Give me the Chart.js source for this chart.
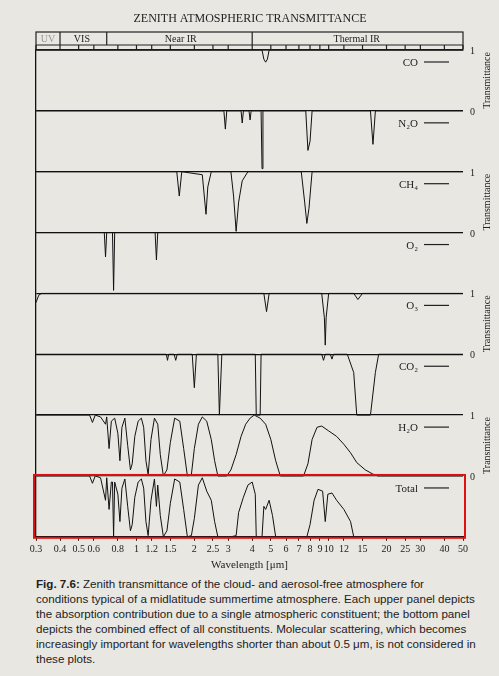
<!DOCTYPE html>
<html>
<head>
<meta charset="utf-8">
<script src="https://cdn.jsdelivr.net/npm/chart.js@4/dist/chart.umd.min.js"></script>
<style>
  body { margin: 0; background: #e9e7e2; width: 499px; height: 676px; overflow: hidden; }
  #wrap { position: relative; width: 499px; height: 572px; }
  #cap { margin: 4px 20px 0 36px; font-family: "Liberation Sans", sans-serif; font-size: 11.6px; line-height: 15px; color: #222; }
</style>
</head>
<body>
<div id="wrap"><canvas id="myChart" width="499" height="572"></canvas></div>
<div id="cap"><b>Fig. 7.6:</b> Zenith transmittance of the cloud- and aerosol-free atmosphere for conditions typical of a midlatitude summertime atmosphere. Each upper panel depicts the absorption contribution due to a single atmospheric constituent; the bottom panel depicts the combined effect of all constituents. Molecular scattering, which becomes increasingly important for wavelengths shorter than about 0.5 μm, is not considered in these plots.</div>
<script>
// panels from top to bottom
const gases = ['CO', 'N₂O', 'CH₄', 'O₂', 'O₃', 'CO₂', 'H₂O', 'Total'];
const tickValues = [0.3, 0.4, 0.5, 0.6, 0.8, 1, 1.2, 1.5, 2, 2.5, 3, 4, 5, 6, 7, 8, 9, 10, 12, 15, 20, 25, 30, 40, 50];

const coWl = [0.3, 4.5, 4.6, 4.7, 4.8, 4.9, 50];
const coT = [1, 1, 0.85, 0.8, 0.85, 1, 1];

const n2oWl = [0.3, 2.85, 2.9, 2.95, 3.5, 3.55, 3.6, 3.85, 3.9, 3.95, 4.45, 4.5, 4.55, 7.6, 7.8, 8.0, 8.2, 16.5, 17, 17.5, 50];
const n2oT = [1, 1, 0.7, 1, 1, 0.8, 1, 1, 0.85, 1, 1, 0.05, 1, 1, 0.35, 0.5, 1, 1, 0.45, 1, 1];

const ch4Wl = [0.3, 1.62, 1.67, 1.72, 2.2, 2.3, 2.35, 2.45, 3.1, 3.2, 3.3, 3.4, 3.55, 3.8, 7.2, 7.5, 7.7, 7.9, 8.2, 50];
const ch4T = [1, 1, 0.6, 1, 0.95, 0.3, 0.75, 1, 1, 0.6, 0.02, 0.5, 0.85, 1, 1, 0.5, 0.15, 0.4, 1, 1];

const o2Wl = [0.3, 0.68, 0.69, 0.7, 0.75, 0.76, 0.77, 1.25, 1.27, 1.29, 50];
const o2T = [1, 1, 0.6, 1, 1, 0.05, 1, 1, 0.55, 1, 1];

const o3Wl = [0.3, 0.31, 0.32, 4.6, 4.75, 4.9, 9.2, 9.5, 9.6, 9.7, 10, 13.5, 14.2, 15, 50];
const o3T = [0.85, 0.97, 1, 1, 0.7, 1, 1, 0.6, 0.15, 0.6, 1, 1, 0.9, 1, 1];

const co2Wl = [0.3, 1.43, 1.45, 1.47, 1.57, 1.6, 1.63, 1.95, 2.0, 2.05, 2.65, 2.7, 2.78, 4.15, 4.2, 4.4, 4.45, 9.2, 9.4, 9.6, 10.2, 10.4, 10.6, 12.5, 13.5, 14, 16.5, 17.5, 18.2, 50];
const co2T = [1, 1, 0.9, 1, 1, 0.9, 1, 1, 0.45, 1, 1, 0.0, 1, 1, 0.0, 0.0, 1, 1, 0.9, 1, 1, 0.92, 1, 1, 0.7, 0.0, 0.0, 0.7, 1, 1];

const h2oWl = [0.3, 0.57, 0.59, 0.61, 0.65, 0.69, 0.7, 0.72, 0.74, 0.77, 0.8, 0.82, 0.84, 0.87, 0.9, 0.93, 0.95, 0.98, 1.02, 1.06, 1.09, 1.12, 1.15, 1.19, 1.24, 1.29, 1.33, 1.38, 1.44, 1.5, 1.58, 1.68, 1.76, 1.84, 1.93, 2.0, 2.1, 2.2, 2.32, 2.45, 2.55, 2.65, 2.95, 3.1, 3.3, 3.5, 3.7, 3.9, 4.1, 4.4, 4.7, 5.0, 5.3, 5.6, 7.4, 7.8, 8.2, 8.7, 9.2, 10, 11, 12, 13, 14, 15.5, 17, 18, 50];
const h2oT = [1, 1, 0.88, 1, 0.97, 0.85, 0.97, 0.45, 0.9, 0.95, 0.7, 0.25, 0.8, 0.95, 0.5, 0.1, 0.2, 0.65, 0.9, 0.95, 0.8, 0.25, 0.02, 0.6, 0.95, 0.85, 0.35, 0.0, 0.1, 0.55, 0.95, 0.9, 0.45, 0.0, 0.02, 0.45, 0.85, 0.97, 0.9, 0.6, 0.25, 0.0, 0.0, 0.1, 0.35, 0.65, 0.85, 0.95, 1.0, 0.95, 0.85, 0.6, 0.25, 0.0, 0.0, 0.2, 0.6, 0.8, 0.82, 0.74, 0.65, 0.52, 0.38, 0.22, 0.1, 0.03, 0, 0];

const totWl = [0.3, 0.57, 0.59, 0.61, 0.65, 0.69, 0.7, 0.72, 0.74, 0.75, 0.76, 0.77, 0.8, 0.82, 0.84, 0.87, 0.9, 0.93, 0.95, 0.98, 1.02, 1.06, 1.09, 1.12, 1.15, 1.19, 1.24, 1.27, 1.29, 1.33, 1.38, 1.44, 1.5, 1.58, 1.68, 1.76, 1.84, 1.93, 2.0, 2.1, 2.2, 2.32, 2.45, 2.55, 2.65, 3.1, 3.3, 3.4, 3.6, 3.8, 4.0, 4.15, 4.2, 4.5, 4.6, 4.7, 4.9, 5.1, 5.3, 7.7, 8.0, 8.4, 8.8, 9.3, 9.6, 9.9, 10.4, 11, 12, 13, 13.5, 50];
const totT = [1, 1, 0.88, 1, 0.97, 0.6, 0.97, 0.45, 0.9, 0.9, 0.0, 0.9, 0.7, 0.25, 0.8, 0.95, 0.5, 0.1, 0.2, 0.65, 0.9, 0.95, 0.8, 0.25, 0.02, 0.6, 0.95, 0.5, 0.85, 0.35, 0.0, 0.1, 0.55, 0.95, 0.9, 0.45, 0.0, 0.02, 0.3, 0.85, 0.97, 0.75, 0.6, 0.25, 0.0, 0.0, 0.02, 0.4, 0.65, 0.85, 0.9, 0.7, 0.0, 0.0, 0.5, 0.45, 0.6, 0.35, 0.0, 0.0, 0.2, 0.6, 0.78, 0.75, 0.25, 0.7, 0.72, 0.6, 0.45, 0.25, 0.0, 0];

const series = [[coWl, coT], [n2oWl, n2oT], [ch4Wl, ch4T], [o2Wl, o2T], [o3Wl, o3T], [co2Wl, co2T], [h2oWl, h2oT], [totWl, totT]];

const datasets = series.map(([wl, tr], i) => {
  const offset = gases.length - 1 - i;
  return {
    label: gases[i],
    data: wl.map((w, j) => ({ x: w, y: offset + tr[j] })),
    borderColor: '#111',
    borderWidth: 1,
    pointRadius: 0,
    tension: 0,
  };
});

const deco = {
  id: 'deco',
  afterDraw(chart) {
    const { ctx, chartArea: a, scales: { x, y } } = chart;
    ctx.save();
    ctx.fillStyle = '#222';
    ctx.strokeStyle = '#222';
    ctx.font = '12px "Liberation Serif", serif';
    ctx.textAlign = 'center';
    ctx.fillText('ZENITH ATMOSPHERIC TRANSMITTANCE', 250, 22);
    // header band
    const hTop = 32, hMid = 45;
    ctx.lineWidth = 1.2;
    ctx.strokeRect(a.left, hTop, a.right - a.left, a.top - hTop);
    ctx.beginPath();
    ctx.moveTo(a.left, hMid); ctx.lineTo(a.right, hMid);
    [0.4, 0.7, 4].forEach(v => { const px = x.getPixelForValue(v); ctx.moveTo(px, hTop); ctx.lineTo(px, hMid); });
    tickValues.forEach(v => { const px = x.getPixelForValue(v); ctx.moveTo(px, hMid); ctx.lineTo(px, hMid + 4); });
    ctx.stroke();
    ctx.font = '10px "Liberation Serif", serif';
    ctx.fillStyle = '#999';
    ctx.fillText('UV', (a.left + x.getPixelForValue(0.4)) / 2, hMid - 3);
    ctx.fillStyle = '#222';
    ctx.fillText('VIS', x.getPixelForValue(0.52), hMid - 3);
    ctx.fillText('Near IR', x.getPixelForValue(1.7), hMid - 3);
    ctx.fillText('Thermal IR', x.getPixelForValue(14), hMid - 3);
    // legends and right labels
    gases.forEach((g, i) => {
      const top = y.getPixelForValue(gases.length - i);
      ctx.textAlign = 'right';
      ctx.font = '11px "Liberation Serif", serif';
      ctx.fillText(g, 418, top + 16);
      ctx.beginPath(); ctx.moveTo(424, top + 12); ctx.lineTo(449, top + 12); ctx.stroke();
    });
    ctx.font = '10px "Liberation Serif", serif';
    ctx.textAlign = 'left';
    for (let k = 0; k < 8; k++) {
      const py = y.getPixelForValue(8 - k);
      ctx.fillText(k % 2 === 0 ? '1' : '0', 470, py + 4);
    }
    for (let k = 0; k < 4; k++) {
      const mid = (y.getPixelForValue(8 - 2 * k) + y.getPixelForValue(7 - 2 * k)) / 2;
      ctx.save();
      ctx.translate(490, mid);
      ctx.rotate(-Math.PI / 2);
      ctx.textAlign = 'center';
      ctx.fillText('Transmittance', 0, 0);
      ctx.restore();
    }
    // highlight box
    ctx.strokeStyle = '#e01010';
    ctx.lineWidth = 2;
    ctx.strokeRect(a.left - 2, y.getPixelForValue(1) - 1, a.right - a.left + 4, y.getPixelForValue(0) - y.getPixelForValue(1) + 2);
    ctx.restore();
  }
};

new Chart(document.getElementById('myChart').getContext('2d'), {
  type: 'line',
  data: { datasets },
  plugins: [deco],
  options: {
    responsive: false,
    animation: false,
    layout: { padding: { left: 36, right: 36, top: 50, bottom: 0 } },
    plugins: { legend: { display: false }, tooltip: { enabled: false } },
    scales: {
      x: {
        type: 'logarithmic',
        min: 0.3,
        max: 50,
        afterBuildTicks: axis => { axis.ticks = tickValues.map(v => ({ value: v })); },
        ticks: {
          autoSkip: false,
          maxRotation: 0,
          color: '#222',
          font: { family: '"Liberation Serif", serif', size: 10 },
          callback: v => String(v),
        },
        grid: { drawOnChartArea: false, tickLength: 4, color: '#222' },
        border: { color: '#111', width: 1.5 },
        title: { display: true, text: 'Wavelength [μm]', color: '#222', font: { family: '"Liberation Serif", serif', size: 11 }, padding: 0 },
      },
      y: {
        display: true,
        min: 0,
        max: 8,
        ticks: { display: false, stepSize: 1 },
        grid: { color: '#111', lineWidth: 1.3, drawTicks: false },
        border: { color: '#111', width: 1.3 },
        afterFit: s => { s.width = 0; },
      },
    },
  },
});
</script>
</body>
</html>
